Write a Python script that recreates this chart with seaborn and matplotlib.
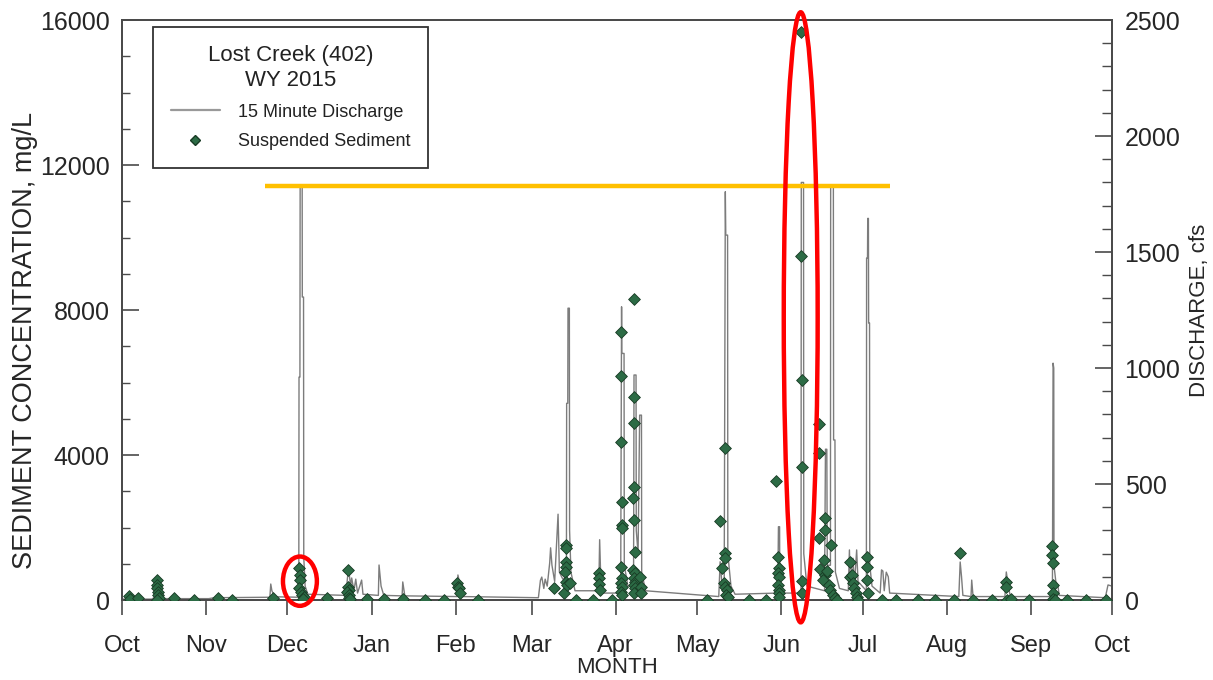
import pandas as pd
import matplotlib
matplotlib.use("Agg")
import matplotlib.pyplot as plt
import matplotlib.dates as mdates
from matplotlib.patches import Ellipse
from matplotlib.lines import Line2D
from matplotlib.ticker import MultipleLocator
import seaborn as sns

# ---------------------------------------------------------------------------
# Data
# ---------------------------------------------------------------------------

# 15 minute discharge, cfs (break points of the hydrograph)
dis_time = [
    "2014-10-01 00:00", "2014-10-12 00:00", "2014-10-13 06:00", "2014-10-14 12:00",
    "2014-11-02 00:00", "2014-11-04 00:00", "2014-11-24 12:00", "2014-11-24 20:00",
    "2014-11-25 06:00", "2014-11-26 06:00", "2014-12-05 04:00", "2014-12-05 06:00",
    "2014-12-05 14:00", "2014-12-05 16:00", "2014-12-06 10:00", "2014-12-06 11:00",
    "2014-12-06 22:00", "2014-12-07 00:00", "2014-12-07 12:00", "2014-12-08 12:00",
    "2014-12-22 12:00", "2014-12-23 12:00", "2014-12-24 06:00", "2014-12-24 16:00",
    "2014-12-25 12:00", "2014-12-26 04:00", "2014-12-26 20:00", "2014-12-28 08:00",
    "2014-12-28 20:00", "2015-01-03 12:00", "2015-01-03 18:00", "2015-01-04 12:00",
    "2015-01-05 12:00", "2015-01-12 06:00", "2015-01-12 12:00", "2015-01-13 06:00",
    "2015-02-01 12:00", "2015-02-01 20:00", "2015-02-02 12:00", "2015-02-03 12:00",
    "2015-03-03 12:00", "2015-03-04 06:00", "2015-03-04 18:00", "2015-03-05 12:00",
    "2015-03-06 00:00", "2015-03-06 18:00", "2015-03-07 16:00", "2015-03-08 00:00",
    "2015-03-08 12:00", "2015-03-09 12:00", "2015-03-10 18:00", "2015-03-11 06:00",
    "2015-03-12 12:00", "2015-03-13 20:00", "2015-03-13 22:00", "2015-03-14 08:00",
    "2015-03-14 10:00", "2015-03-14 22:00", "2015-03-15 00:00", "2015-03-15 12:00",
    "2015-03-17 00:00", "2015-03-25 18:00", "2015-03-26 02:00", "2015-03-26 12:00",
    "2015-03-27 12:00", "2015-04-02 20:00", "2015-04-03 04:00", "2015-04-03 06:00",
    "2015-04-04 02:00", "2015-04-04 04:00", "2015-04-05 12:00", "2015-04-07 14:00",
    "2015-04-07 18:00", "2015-04-08 12:00", "2015-04-08 14:00", "2015-04-09 06:00",
    "2015-04-09 20:00", "2015-04-10 12:00", "2015-04-10 14:00", "2015-04-12 00:00",
    "2015-05-09 00:00", "2015-05-09 12:00", "2015-05-10 06:00", "2015-05-11 00:00",
    "2015-05-11 10:00", "2015-05-11 14:00", "2015-05-12 06:00", "2015-05-12 08:00",
    "2015-05-13 12:00", "2015-05-15 00:00", "2015-05-30 18:00", "2015-05-31 00:00",
    "2015-05-31 10:00", "2015-05-31 12:00", "2015-06-01 12:00", "2015-06-08 08:00",
    "2015-06-08 10:00", "2015-06-09 06:00", "2015-06-09 08:00", "2015-06-10 12:00",
    "2015-06-17 00:00", "2015-06-17 08:00", "2015-06-17 20:00", "2015-06-18 00:00",
    "2015-06-19 04:00", "2015-06-19 06:00", "2015-06-20 06:00", "2015-06-20 08:00",
    "2015-06-20 20:00", "2015-06-21 00:00", "2015-06-22 12:00", "2015-06-25 18:00",
    "2015-06-26 04:00", "2015-06-26 12:00", "2015-06-27 12:00", "2015-06-28 00:00",
    "2015-06-28 20:00", "2015-06-29 08:00", "2015-07-02 10:00", "2015-07-02 12:00",
    "2015-07-02 20:00", "2015-07-02 22:00", "2015-07-03 04:00", "2015-07-03 06:00",
    "2015-07-03 14:00", "2015-07-03 16:00", "2015-07-04 12:00", "2015-07-07 12:00",
    "2015-07-08 00:00", "2015-07-08 12:00", "2015-07-09 00:00", "2015-07-09 18:00",
    "2015-07-10 12:00", "2015-07-11 00:00", "2015-08-05 12:00", "2015-08-06 00:00",
    "2015-08-06 12:00", "2015-08-07 00:00", "2015-08-10 00:00", "2015-08-10 06:00",
    "2015-08-10 18:00", "2015-08-22 12:00", "2015-08-23 00:00", "2015-08-23 18:00",
    "2015-08-24 12:00", "2015-09-09 00:00", "2015-09-09 06:00", "2015-09-09 12:00",
    "2015-09-09 14:00", "2015-09-10 06:00", "2015-09-11 00:00", "2015-09-11 12:00",
    "2015-09-28 12:00", "2015-09-29 12:00", "2015-09-30 23:00",
]
dis_cfs = [
    4, 4, 14, 6,
    6, 10, 12, 69,
    40, 14, 12, 961,
    961, 1780, 1780, 1306,
    1306, 185, 60, 25,
    20, 142, 60, 95,
    40, 90, 30, 86,
    25, 20, 151, 60,
    20, 18, 78, 18,
    15, 108, 70, 15,
    10, 85, 99, 50,
    90, 60, 160, 225,
    150, 80, 370, 120,
    90, 100, 848, 848,
    1258, 1258, 300, 120,
    40, 40, 260, 90,
    30, 30, 1264, 1063,
    1063, 150, 60, 60,
    970, 970, 300, 200,
    797, 797, 120, 40,
    15, 165, 60, 60,
    1760, 1573, 1573, 200,
    60, 25, 30, 316,
    316, 60, 30, 30,
    1800, 1800, 200, 60,
    40, 650, 650, 150,
    150, 1780, 1780, 690,
    690, 120, 50, 40,
    216, 80, 180, 60,
    216, 80, 40, 1474,
    1474, 1645, 1645, 1194,
    1194, 150, 60, 30,
    130, 125, 40, 120,
    100, 30, 15, 164,
    100, 20, 15, 86,
    15, 15, 121, 60,
    15, 15, 1021, 1000,
    150, 80, 65, 20,
    10, 65, 60,
]

# suspended sediment samples, mg/L
sed_time = [
    "2014-10-03 14:00", "2014-10-03 20:00", "2014-10-06 20:00",
    "2014-10-13 18:00", "2014-10-13 20:00", "2014-10-14 00:00", "2014-10-14 04:00",
    "2014-10-14 08:00", "2014-10-14 12:00", "2014-10-13 18:30",
    "2014-10-20 08:00", "2014-10-27 12:00", "2014-11-05 12:00", "2014-11-10 12:00",
    "2014-11-25 16:00",
    "2014-12-05 10:00", "2014-12-05 14:00", "2014-12-05 18:00", "2014-12-05 06:00",
    "2014-12-06 00:00", "2014-12-06 12:00", "2014-12-07 06:00", "2014-12-06 20:00",
    "2014-12-15 10:00",
    "2014-12-23 10:00", "2014-12-23 06:00", "2014-12-23 14:00", "2014-12-23 02:00",
    "2014-12-23 20:00", "2014-12-23 12:00", "2014-12-24 04:00",
    "2014-12-30 06:00", "2015-01-05 12:00", "2015-01-12 14:00", "2015-01-20 14:00",
    "2015-01-27 20:00",
    "2015-02-01 12:00", "2015-02-01 18:00", "2015-02-02 06:00", "2015-02-02 12:00",
    "2015-02-09 08:00",
    "2015-03-09 06:00", "2015-03-13 00:00",
    "2015-03-13 12:00", "2015-03-13 14:00", "2015-03-13 16:00", "2015-03-13 18:00",
    "2015-03-13 10:00", "2015-03-13 20:00", "2015-03-13 22:00", "2015-03-15 02:00",
    "2015-03-17 12:00", "2015-03-23 18:00",
    "2015-03-25 20:00", "2015-03-25 22:00", "2015-03-26 00:00", "2015-03-26 02:00",
    "2015-03-30 18:00",
    "2015-04-03 02:00", "2015-04-03 02:30", "2015-04-03 03:00", "2015-04-03 03:30",
    "2015-04-03 04:00", "2015-04-03 04:30", "2015-04-03 01:00", "2015-04-03 05:00",
    "2015-04-03 00:00", "2015-04-03 06:00", "2015-04-03 01:30", "2015-04-03 05:30",
    "2015-04-07 14:00", "2015-04-07 16:00", "2015-04-07 18:00", "2015-04-07 20:00",
    "2015-04-07 12:00", "2015-04-07 22:00", "2015-04-08 00:00", "2015-04-07 10:00",
    "2015-04-08 02:00", "2015-04-07 18:00", "2015-04-08 04:00", "2015-04-07 15:00",
    "2015-04-08 06:00", "2015-04-07 21:00",
    "2015-04-09 22:00", "2015-04-10 06:00", "2015-04-10 12:00",
    "2015-05-04 16:00",
    "2015-05-11 05:00", "2015-05-09 14:00", "2015-05-11 06:00", "2015-05-11 08:00",
    "2015-05-10 08:00", "2015-05-10 20:00", "2015-05-11 10:00", "2015-05-12 02:00",
    "2015-05-11 14:00", "2015-05-12 10:00",
    "2015-05-20 02:00", "2015-05-26 08:00",
    "2015-05-29 22:00",
    "2015-05-31 00:00", "2015-05-31 02:00", "2015-05-30 20:00", "2015-05-31 04:00",
    "2015-05-30 22:00", "2015-05-31 06:00", "2015-05-31 01:00", "2015-05-31 08:00",
    "2015-06-08 10:00", "2015-06-08 11:00", "2015-06-08 12:00", "2015-06-08 13:00",
    "2015-06-08 14:00", "2015-06-08 16:00",
    "2015-06-14 22:00", "2015-06-15 00:00", "2015-06-15 02:00", "2015-06-15 04:00",
    "2015-06-17 00:00", "2015-06-17 04:00", "2015-06-16 20:00", "2015-06-17 08:00",
    "2015-06-16 12:00", "2015-06-19 12:00", "2015-06-18 00:00", "2015-06-18 12:00",
    "2015-06-19 00:00", "2015-06-20 00:00", "2015-06-20 20:00", "2015-06-21 12:00",
    "2015-06-26 05:00", "2015-06-26 08:00", "2015-06-27 04:00", "2015-06-27 14:00",
    "2015-06-28 00:00", "2015-06-28 12:00", "2015-06-29 00:00", "2015-06-29 12:00",
    "2015-07-02 12:00", "2015-07-02 14:00", "2015-07-02 18:00", "2015-07-02 22:00",
    "2015-07-08 00:00", "2015-07-13 10:00", "2015-07-21 10:00", "2015-07-27 14:00",
    "2015-08-03 14:00", "2015-08-06 02:00", "2015-08-10 16:00", "2015-08-17 20:00",
    "2015-08-22 17:00", "2015-08-22 20:00", "2015-08-23 02:00",
    "2015-08-24 20:00", "2015-08-31 08:00",
    "2015-09-08 22:00", "2015-09-09 00:00", "2015-09-09 02:00", "2015-09-09 04:00",
    "2015-09-09 06:00", "2015-09-09 08:00",
    "2015-09-10 02:00", "2015-09-14 12:00", "2015-09-21 10:00", "2015-09-28 14:00",
]
sed_conc = [
    100, 40, 60,
    550, 420, 320, 230,
    150, 60, 10,
    50, 10, 50, 10,
    60,
    880, 700, 550, 330,
    230, 150, 70, 30,
    50,
    830, 360, 280, 220,
    140, 60, 30,
    30, 30, 30, 10,
    10,
    470, 360, 330, 190,
    10,
    330, 190,
    1520, 1430, 1050, 910,
    770, 500, 410, 470,
    10, 10,
    740, 600, 440, 275,
    10,
    7400, 6180, 4370, 2710,
    2070, 1990, 920, 600,
    470, 360, 220, 140,
    8300, 5610, 4880, 3130,
    2810, 2200, 1330, 830,
    740, 600, 500, 410,
    330, 190,
    640, 360, 190,
    10,
    4190, 2190, 1290, 1160,
    880, 470, 360, 275,
    140, 80,
    10, 10,
    3290,
    1200, 880, 740, 640,
    410, 275, 190, 90,
    15660, 9500, 6080, 3680,
    520, 190,
    4870, 4050, 1710, 850,
    2260, 1930, 1100, 690,
    550, 1520, 810, 410,
    275, 140, 60, 10,
    1050, 640, 690, 470,
    330, 190, 80, 10,
    1200, 920, 550, 190,
    10, 10, 10, 10,
    10, 1310, 10, 10,
    510, 360, 10,
    30, 10,
    1490, 1240, 1010, 410,
    200, 30,
    10, 10, 10, 10,
]

# overlay marks drawn on top of the original chart
REF_LEVEL = 11420                              # mg/L, orange line
REF_SPAN = ("2014-11-22 18:00", "2015-07-11 00:00")
CIRCLE_DEC = ("2014-12-05 14:00", 520, 12.5, 1360)   # center, conc, width d, height mg/L
CIRCLE_JUN = ("2015-06-08 05:00", 7800, 12.5, 16830)

GREEN = "#2c6b45"
GREEN_EDGE = "#183a24"
GRAY = "#7c7c7c"
SPINE = "#4a4a4a"

# ---------------------------------------------------------------------------
# Plot
# ---------------------------------------------------------------------------

sns.set_style("ticks")
plt.rcParams["font.family"] = ["Liberation Sans", "DejaVu Sans"]
plt.rcParams["text.color"] = "#222222"

dis_df = pd.DataFrame({"time": pd.to_datetime(dis_time), "cfs": dis_cfs})
sed_df = pd.DataFrame({"time": pd.to_datetime(sed_time), "conc": sed_conc})

fig = plt.figure(figsize=(12.13, 6.8), dpi=100)
ax = fig.add_axes([0.1006, 0.1176, 0.8162, 0.8529])
ax2 = ax.twinx()

sns.lineplot(data=dis_df, x="time", y="cfs", ax=ax2, color=GRAY,
             linewidth=1.0, estimator=None, sort=False)
sns.scatterplot(data=sed_df, x="time", y="conc", ax=ax, marker="D", s=36,
                color=GREEN, edgecolor=GREEN_EDGE, linewidth=0.6, zorder=5)

# sediment axis above the discharge axis so the diamonds sit on the lines
ax.set_zorder(ax2.get_zorder() + 1)
ax.patch.set_visible(False)

# overlays
ax.hlines(REF_LEVEL, pd.Timestamp(REF_SPAN[0]), pd.Timestamp(REF_SPAN[1]),
          color="#FFC000", linewidth=3.2, zorder=6)
for c_time, c_conc, c_w, c_h in (CIRCLE_DEC, CIRCLE_JUN):
    ell = Ellipse((mdates.date2num(pd.Timestamp(c_time)), c_conc), c_w, c_h,
                  fill=False, edgecolor="#FF0000", linewidth=3.2, zorder=7,
                  clip_on=False)
    ax.add_patch(ell)

# axes limits and ticks
ax.set_xlim(pd.Timestamp("2014-10-01"), pd.Timestamp("2015-10-01"))
ax.set_ylim(0, 16000)
ax2.set_ylim(0, 2500)
ax.xaxis.set_major_locator(mdates.MonthLocator())
ax.xaxis.set_major_formatter(mdates.DateFormatter("%b"))
ax.yaxis.set_major_locator(MultipleLocator(4000))
ax.yaxis.set_minor_locator(MultipleLocator(1000))
ax2.yaxis.set_major_locator(MultipleLocator(500))
ax2.yaxis.set_minor_locator(MultipleLocator(100))

ax.tick_params(axis="x", direction="out", length=11, width=1.2, pad=14,
               labelsize=17, color=SPINE)
ax.tick_params(axis="y", which="major", direction="in", length=12, width=1.2,
               pad=9, labelsize=18, color=SPINE)
ax.tick_params(axis="y", which="minor", direction="in", length=6, width=1.0,
               color=SPINE)
ax2.tick_params(axis="y", which="major", direction="in", length=12, width=1.2,
                pad=9, labelsize=18, color=SPINE)
ax2.tick_params(axis="y", which="minor", direction="in", length=7, width=1.0,
                color=SPINE)

for a in (ax, ax2):
    for sp in a.spines.values():
        sp.set_color(SPINE)
        sp.set_linewidth(1.3)

ax.set_xlabel("MONTH", fontsize=16, labelpad=0)
ax.set_ylabel("SEDIMENT CONCENTRATION, mg/L", fontsize=19.5, labelpad=5)
ax.yaxis.set_label_coords(-0.085, 0.447)
ax2.set_ylabel("DISCHARGE, cfs", fontsize=16, labelpad=6)

# legend
handles = [
    Line2D([], [], color="#999999", linewidth=1.6),
    Line2D([], [], marker="D", linestyle="", markersize=5.5,
           markerfacecolor=GREEN, markeredgecolor=GREEN_EDGE),
]
leg = ax.legend(handles, ["15 Minute Discharge", "Suspended Sediment"],
                title="Lost Creek (402)\nWY 2015", loc="upper left",
                bbox_to_anchor=(0.031, 0.988), borderaxespad=0,
                fontsize=13, title_fontsize=16, frameon=True, fancybox=False,
                framealpha=1, edgecolor="#333333", handlelength=2.7,
                handletextpad=1.0, borderpad=1.0, labelspacing=0.7)
leg.get_frame().set_linewidth(1.3)
leg.get_title().set_multialignment("center")
leg.get_title().set_linespacing(1.25)

fig.savefig("out.png", dpi=100)
